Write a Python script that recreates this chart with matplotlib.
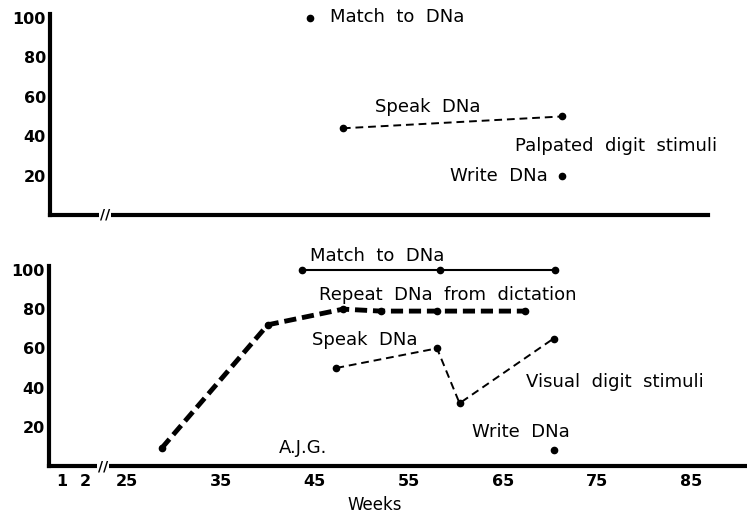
import numpy as np
import matplotlib.pyplot as plt

plt.rcParams['font.family'] = ['DejaVu Sans']

# upper panel - palpated digit stimuli
palp_match_weeks = [44]
palp_match_pct = [100]
palp_speak_weeks = [47.5, 70.5]
palp_speak_pct = [44, 50]
palp_write_weeks = [70.5]
palp_write_pct = [20]

# lower panel - visual digit stimuli
vis_match_weeks = [43.6, 58.3, 70.6]
vis_match_pct = [100, 100, 100]
vis_repeat_weeks = [28.7, 40, 48, 52, 58, 67.4]
vis_repeat_pct = [9, 72, 80, 79, 79, 79]
vis_speak_weeks = [47.3, 58, 60.4, 70.4]
vis_speak_pct = [50, 60, 32, 65]
vis_write_weeks = [70.4]
vis_write_pct = [8]

week_ticks = [1, 2, 25, 35, 45, 55, 65, 75, 85]
pct_ticks = [20, 40, 60, 80, 100]

# broken week axis: weeks 1-2 stretched out, then a jump to 25
_w = np.array([-10, 2, 25, 200])
_u = np.array([-27.72, 2.52, 6.93, 181.93])


def fwd(w):
    return np.interp(w, _w, _u)


def inv(u):
    return np.interp(u, _u, _w)


def setup(ax, xmax):
    ax.set_xscale('function', functions=(fwd, inv))
    ax.set_xlim(0.47, xmax)
    ax.set_ylim(0, 102)
    for s in ['top', 'right']:
        ax.spines[s].set_visible(False)
    for s in ['left', 'bottom']:
        ax.spines[s].set_linewidth(3)
    ax.set_yticks(pct_ticks)
    ax.set_yticklabels([str(v) for v in pct_ticks], fontsize=11.5, fontweight='bold')
    ax.tick_params(axis='both', length=0)
    ax.tick_params(axis='y', pad=3)
    # axis break mark
    ax.text(12, 0, '//', ha='center', va='center', fontsize=10, fontweight='bold',
            bbox=dict(fc='white', ec='none', pad=0.5), zorder=5, clip_on=False)


fig = plt.figure(figsize=(7.47, 5.16), dpi=100)
ax1 = fig.add_axes([50 / 747, 301 / 516, 658 / 747, 201 / 516])
ax2 = fig.add_axes([49 / 747, 50 / 516, 698 / 747, 200 / 516])

setup(ax1, 85.86)
ax1.set_xticks([])

ms = 4.5
ax1.plot(palp_match_weeks, palp_match_pct, 'o', color='black', ms=ms, clip_on=False)
ax1.plot(palp_speak_weeks, palp_speak_pct, color='black', lw=1.4, ls=(0, (4, 2.5)),
         marker='o', ms=ms)
ax1.plot(palp_write_weeks, palp_write_pct, 'o', color='black', ms=ms)

txt = dict(fontsize=13, ha='left', va='center')
ax1.text(46.2, 100.5, 'Match  to  DNa', **txt)
ax1.text(50.9, 55, 'Speak  DNa', **txt)
ax1.text(65.6, 35, 'Palpated  digit  stimuli', **txt)
ax1.text(58.8, 20, 'Write  DNa', **txt)

setup(ax2, 90.97)
ax2.set_xticks(week_ticks)
ax2.set_xticklabels([str(v) for v in week_ticks], fontsize=11.5, fontweight='bold')
ax2.tick_params(axis='x', pad=6)

ax2.plot(vis_match_weeks, vis_match_pct, color='black', lw=1.5, marker='o', ms=ms,
         clip_on=False)
ax2.plot(vis_repeat_weeks, vis_repeat_pct, color='black', lw=3.5, ls=(0, (2.5, 1.2)),
         marker='o', ms=ms)
ax2.plot(vis_speak_weeks, vis_speak_pct, color='black', lw=1.4, ls=(0, (4, 2.5)),
         marker='o', ms=ms)
ax2.plot(vis_write_weeks, vis_write_pct, 'o', color='black', ms=ms)

ax2.text(44.5, 107, 'Match  to  DNa', **txt)
ax2.text(45.5, 87, 'Repeat  DNa  from  dictation', **txt)
ax2.text(44.7, 64.5, 'Speak  DNa', **txt)
ax2.text(67.5, 43, 'Visual  digit  stimuli', **txt)
ax2.text(61.7, 17.5, 'Write  DNa', **txt)
ax2.text(41.2, 9, 'A.J.G.', **txt)

fig.text(375 / 747, 1 - 505 / 516, 'Weeks', fontsize=12, ha='center', va='center')

fig.savefig('out.png', dpi=100)
